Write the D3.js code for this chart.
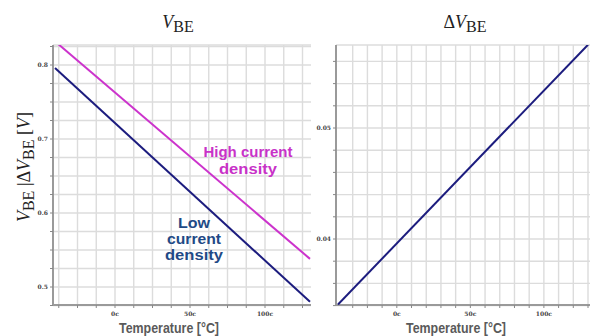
<!DOCTYPE html>
<html>
<head>
<meta charset="utf-8">
<script src="https://cdn.jsdelivr.net/npm/d3@7"></script>
<style>
  body { margin: 0; background: #fff; }
  svg { display: block; }
  .grid line { stroke: #dcdcdc; stroke-width: 1.4; }
  .tick-lab { font-family: "DejaVu Serif", serif; font-weight: bold; font-size: 6px; fill: #444; }
  .xlab { font-family: "Liberation Sans", sans-serif; font-weight: bold; fill: #5a5a5a; font-size: 14.5px; }
  .note { font-family: "Liberation Sans", sans-serif; font-weight: bold; font-size: 13.8px; }
  .ttl { font-family: "Liberation Serif", serif; font-size: 18px; fill: #222; }
</style>
</head>
<body>
<div id="chart"></div>
<script>
// data
const temps = [-40, 130]
const vbeLow = [0.796, 0.480]
const vbeHigh = [0.832, 0.538]
const dVbe = [0.0341, 0.0575]
const xTicks = [0, 50, 100]
const xTickLabels = ['0c', '50c', '100c']
const leftYTicks = [0.5, 0.6, 0.7, 0.8]
const rightYTicks = [0.04, 0.05]

const W = 590
const H = 336
const svg = d3.select('#chart').append('svg').attr('width', W).attr('height', H)

const plotTop = 45
const plotBottom = 305

function panel (opts) {
  const g = svg.append('g')
  const x = opts.x
  const y = opts.y
  const x0 = opts.left
  const x1 = opts.right
  // clip
  const cid = 'clip' + opts.id
  svg.append('clipPath').attr('id', cid).append('rect')
    .attr('x', x0).attr('y', plotTop).attr('width', x1 - x0).attr('height', plotBottom - plotTop)
  // grid
  const grid = g.append('g').attr('class', 'grid')
  grid.selectAll('.v').data(opts.xGrid).enter().append('line')
    .attr('x1', d => x(d)).attr('x2', d => x(d)).attr('y1', plotTop).attr('y2', plotBottom)
  grid.selectAll('.h').data(opts.yGrid).enter().append('line')
    .attr('x1', x0).attr('x2', x1).attr('y1', d => y(d)).attr('y2', d => y(d))
  grid.append('line').attr('x1', x0).attr('x2', x1).attr('y1', plotTop).attr('y2', plotTop)
  // axes lines
  g.append('line').attr('x1', x0).attr('x2', x0).attr('y1', plotTop).attr('y2', plotBottom)
    .attr('stroke', '#9a9a9a').attr('stroke-width', 2)
  g.append('line').attr('x1', x0).attr('x2', x1).attr('y1', plotBottom).attr('y2', plotBottom)
    .attr('stroke', '#9a9a9a').attr('stroke-width', 2)
  // small tick marks
  g.selectAll('.xt').data(opts.xGrid).enter().append('line')
    .attr('x1', d => x(d)).attr('x2', d => x(d)).attr('y1', plotBottom).attr('y2', plotBottom + 3)
    .attr('stroke', '#888').attr('stroke-width', 1)
  g.selectAll('.yt').data(opts.yGrid).enter().append('line')
    .attr('x1', x0 - 3).attr('x2', x0).attr('y1', d => y(d)).attr('y2', d => y(d))
    .attr('stroke', '#888').attr('stroke-width', 1)
  // tick labels
  g.selectAll('.xl').data(xTicks).enter().append('text')
    .attr('class', 'tick-lab')
    .attr('x', d => x(d)).attr('y', plotBottom + 11)
    .attr('text-anchor', 'middle')
    .text((d, i) => xTickLabels[i])
  g.selectAll('.yl').data(opts.yTicks).enter().append('text')
    .attr('class', 'tick-lab')
    .attr('x', x0 - 5).attr('y', d => y(d) + 2)
    .attr('text-anchor', 'end')
    .text(d => opts.fmt(d))
  // x label
  g.append('text').attr('class', 'xlab')
    .attr('x', opts.labelX).attr('y', 332.5)
    .attr('text-anchor', 'middle')
    .attr('textLength', 100).attr('lengthAdjust', 'spacingAndGlyphs')
    .text('Temperature [°C]')
  // lines
  const line = d3.line().x((d, i) => x(temps[i])).y(d => y(d))
  opts.series.forEach(s => {
    g.append('path').datum(s.values)
      .attr('clip-path', `url(#${cid})`)
      .attr('d', line)
      .attr('fill', 'none')
      .attr('stroke', s.color)
      .attr('stroke-width', 2)
  })
  return g
}

const xL = d3.scaleLinear().domain([-40, 130]).range([55, 310])
const yL = d3.scaleLinear().domain([0.5, 0.8]).range([287, 65])
panel({
  id: 'L',
  x: xL,
  y: yL,
  left: 53,
  right: 311,
  xGrid: d3.range(-37.5, 130, 12.5),
  yGrid: d3.range(0.475, 0.826, 0.025),
  yTicks: leftYTicks,
  fmt: d3.format('.1f'),
  labelX: 169,
  series: [
    { values: vbeHigh, color: '#cc33cc' },
    { values: vbeLow, color: '#1c1c7e' }
  ]
})

const xR = d3.scaleLinear().domain([-40, 130]).range([338, 588])
const yR = d3.scaleLinear().domain([0.04, 0.05]).range([239, 128])
panel({
  id: 'R',
  x: xR,
  y: yR,
  left: 336,
  right: 590,
  xGrid: d3.range(-30, 131, 10),
  yGrid: d3.range(0.034, 0.0571, 0.002),
  yTicks: rightYTicks,
  fmt: d3.format('.2f'),
  labelX: 456,
  series: [
    { values: dVbe, color: '#1c1c7e' }
  ]
})

// titles
function vbe (sel, delta) {
  if (delta) sel.append('tspan').text('Δ')
  sel.append('tspan').attr('font-style', 'italic').text('V')
  sel.append('tspan').attr('dy', 4).attr('font-size', '16px').text('BE')
}
svg.append('text').attr('class', 'ttl').attr('x', 178).attr('y', 28)
  .attr('text-anchor', 'middle').call(s => vbe(s, false))
svg.append('text').attr('class', 'ttl').attr('x', 465).attr('y', 28)
  .attr('text-anchor', 'middle').call(s => vbe(s, true))

// y label
const yl = svg.append('text').attr('class', 'ttl')
  .attr('transform', 'translate(30,167) rotate(-90)')
  .attr('text-anchor', 'middle')
yl.append('tspan').attr('font-style', 'italic').text('V')
yl.append('tspan').attr('dy', 4).attr('font-size', '16px').text('BE')
yl.append('tspan').attr('dy', -4).text(' |Δ')
yl.append('tspan').attr('font-style', 'italic').text('V')
yl.append('tspan').attr('dy', 4).attr('font-size', '16px').text('BE')
yl.append('tspan').attr('dy', -4).text(' [')
yl.append('tspan').attr('font-style', 'italic').text('V')
yl.append('tspan').text(']')

// annotations (one text each, lines as tspans)
function note (lines, cx, y0, step, color) {
  const t = svg.append('text').attr('class', 'note').attr('fill', color)
    .attr('text-anchor', 'middle')
  lines.forEach((l, i) => {
    t.append('tspan').attr('x', cx).attr('y', y0 + i * step)
      .attr('textLength', l[1]).attr('lengthAdjust', 'spacingAndGlyphs')
      .text(l[0])
  })
}
note([['High current', 89], ['density', 58]], 248, 157, 17, '#c832c8')
note([['Low', 32], ['current', 54], ['density', 58]], 194, 228, 16, '#1f4a86')
</script>
</body>
</html>
